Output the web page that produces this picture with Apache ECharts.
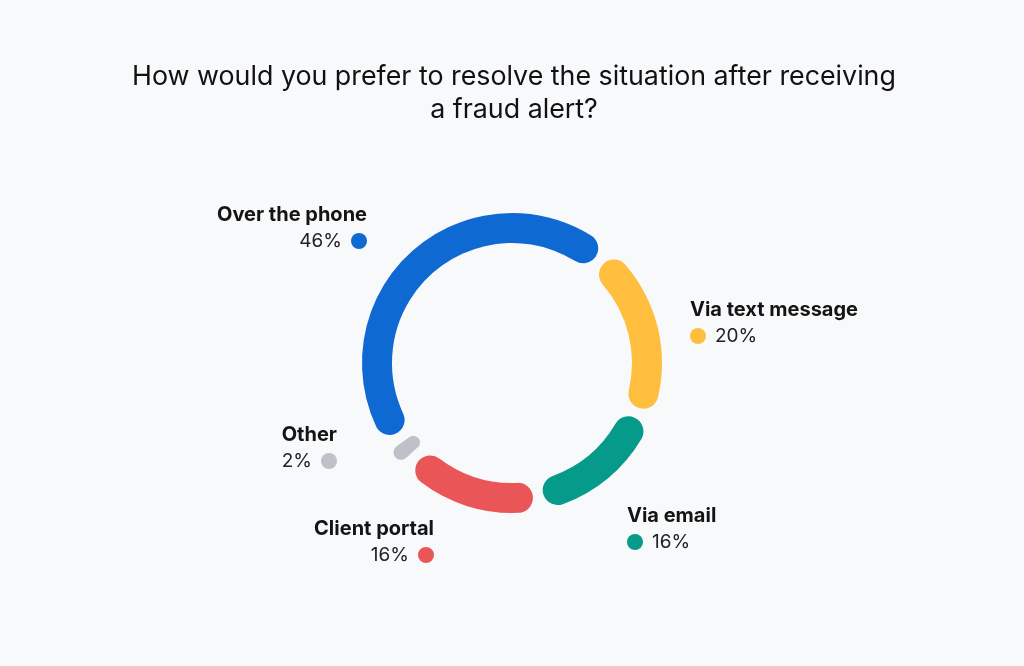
<!DOCTYPE html>
<html>
<head>
<meta charset="utf-8">
<script src="https://cdn.jsdelivr.net/npm/echarts@6/dist/echarts.min.js"></script>
<style>
  html, body { margin: 0; padding: 0; background: #f8f9fb; }
  #chart { width: 1024px; height: 666px; }
</style>
</head>
<body>
<div id="chart"></div>
<script>
// answers, clockwise from the bottom-left
var channels = ['Over the phone', 'Via text message', 'Via email', 'Client portal', 'Other'];
var shares = [46, 20, 16, 16, 2];
var colors = ['#0f69d2', '#ffbe3d', '#069a8a', '#ea5558', '#bcc2c8'];

// where each label block sits: [x, y, align]
var labelSpots = [
    [367, 202, 'right'],
    [690, 297, 'left'],
    [627, 503, 'left'],
    [434, 516, 'right'],
    [337, 422, 'right']
];

var rich = {
    name: { fontFamily: 'Inter', fontWeight: 700, fontSize: 20, color: '#141414', lineHeight: 26 },
    pct: { fontFamily: 'Inter', fontWeight: 400, fontSize: 19, color: '#222', lineHeight: 26 },
    sp: { width: 9 }
};
colors.forEach(function (c, i) {
    rich['dot' + i] = { width: 16, height: 16, borderRadius: 8, backgroundColor: c };
});

var chart = echarts.init(document.getElementById('chart'));
chart.setOption({
    backgroundColor: '#f8f9fb',
    title: {
        text: 'How would you prefer to resolve the situation after receiving\na fraud alert?',
        left: 509,
        top: 55,
        textAlign: 'center',
        textStyle: {
            fontFamily: 'Inter',
            fontWeight: 400,
            fontSize: 26.8,
            lineHeight: 33,
            color: '#111'
        }
    },
    series: [{
        type: 'pie',
        center: [512, 363],
        radius: [120, 150],
        startAngle: 213.6,
        padAngle: 4.5,
        minAngle: 6,
        silent: true,
        itemStyle: { borderRadius: 15 },
        label: {
            show: true,
            position: 'outside',
            rich: rich,
            formatter: function (p) {
                var i = p.dataIndex;
                if (labelSpots[i][2] === 'right') {
                    return '{name|' + p.name + '}\n{pct|' + p.value + '%}{sp|}{dot' + i + '|}';
                }
                return '{name|' + p.name + '}\n{dot' + i + '|}{sp|}{pct|' + p.value + '%}';
            }
        },
        labelLine: { show: false },
        labelLayout: function (p) {
            var s = labelSpots[p.dataIndex];
            return { x: s[0], y: s[1], align: s[2], verticalAlign: 'top' };
        },
        data: channels.map(function (n, i) {
            return { name: n, value: shares[i], itemStyle: { color: colors[i] } };
        })
    }]
});
</script>
</body>
</html>
